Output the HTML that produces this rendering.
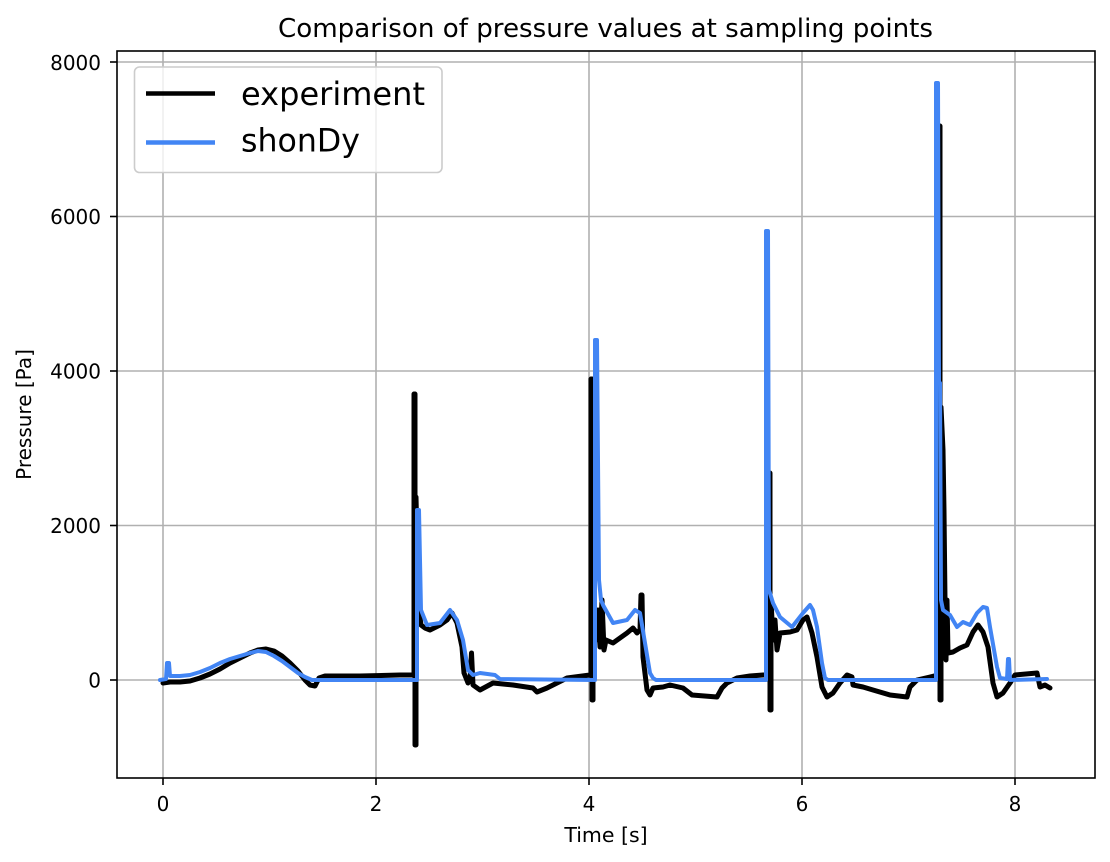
<!DOCTYPE html>
<html>
<head>
<meta charset="utf-8">
<style>
  html, body { margin:0; padding:0; background:#ffffff; }
  svg { display:block; }
  text { font-family: "DejaVu Sans", "Liberation Sans", sans-serif; fill:#000; }
</style>
</head>
<body>
<svg width="1110" height="862" viewBox="0 0 1110 862" xmlns="http://www.w3.org/2000/svg">
  <rect x="0" y="0" width="1110" height="862" fill="#ffffff"/>

  <!-- Title -->
  <text x="278" y="37" font-size="26" textLength="655" lengthAdjust="spacingAndGlyphs">Comparison of pressure values at sampling points</text>

  <!-- Grid -->
  <g stroke="#b0b0b0" stroke-width="1.6">
    <line x1="163" y1="51" x2="163" y2="778"/>
    <line x1="376" y1="51" x2="376" y2="778"/>
    <line x1="589" y1="51" x2="589" y2="778"/>
    <line x1="802" y1="51" x2="802" y2="778"/>
    <line x1="1015" y1="51" x2="1015" y2="778"/>
    <line x1="117" y1="62" x2="1095" y2="62"/>
    <line x1="117" y1="216.5" x2="1095" y2="216.5"/>
    <line x1="117" y1="371" x2="1095" y2="371"/>
    <line x1="117" y1="525.5" x2="1095" y2="525.5"/>
    <line x1="117" y1="680" x2="1095" y2="680"/>
  </g>

  <!-- Experiment (black) -->
  <path fill="none" stroke="#000" stroke-width="5" stroke-linejoin="round" stroke-linecap="round"
    d="M163,683 L170,682 L180,682 L190,681 L200,678 L210,674 L220,669 L230,663 L240,658 L250,653 L258,650 L266,649 L274,651 L282,656 L290,663 L298,671 L305,680 L310,685 L315,686 L319,678 L325,676 L360,676 L400,675 L413,675
    L414,675 L414,394 L415,394 L415,745 L416,745 L416,497 L417,540 L419,610 L421,625 L425,628 L430,630 L440,625 L447,620 L452,613 L457,623 L462,647 L464,673 L468,683 L470,680 L471.5,653 L473,685 L480,690 L493,683 L513,685 L533,688 L537,692 L547,688 L567,678 L590,675
    L591,675 L591,379 L592,379 L592,700 L593,700 L593,610 L596,640 L598,610 L600,647 L602,600 L604,650 L606,640 L613,643 L627,633 L633,628 L637,633 L640,630 L641,595 L642,595 L643,657 L647,690 L650,695 L653,688 L663,687 L670,685 L683,688 L692,695 L717,697 L722,688 L727,683 L737,678 L750,676 L763,675 L768,675
    L769,675 L769,473 L770,473 L770,710 L771,710 L771,600 L773,640 L775,620 L777,650 L780,633 L790,632 L797,630 L803,620 L807,617 L812,633 L817,657 L822,687 L827,697 L833,693 L840,683 L847,675 L852,677 L853,685 L863,687 L873,690 L890,695 L907,697 L910,687 L917,680 L930,677 L938,675
    L939,675 L939,126 L940,126 L940,700 L941,700 L941,407 L943,450 L944,511 L945,600 L946,660 L947,600 L948,653 L953,652 L960,648 L967,645 L973,632 L978,625 L983,632 L988,647 L993,683 L997,697 L1003,693 L1010,683 L1015,675 L1037,673 L1040,687 L1045,685 L1050,688"/>

  <!-- shonDy (blue) -->
  <path fill="none" stroke="#4285f4" stroke-width="4" stroke-linejoin="round" stroke-linecap="round"
    d="M160,680 L166,679 L167,663 L169,663 L170,676 L180,676 L190,675 L200,672 L210,668 L220,663 L230,659 L240,656 L250,653 L258,651 L266,652 L274,656 L282,661 L290,667 L298,673 L305,677 L312,680 L417,680
    L417,510 L419,510 L421,610 L427,625 L440,623 L450,610 L457,620 L463,640 L468,670 L473,675 L480,673 L495,675 L500,679 L595,680
    L595,340 L597,340 L599,580 L601,600 L603,605 L613,623 L627,620 L635,610 L640,613 L645,643 L650,673 L653,678 L656,680 L766,680
    L766,231 L768,231 L769,590 L773,603 L780,617 L792,627 L803,613 L810,605 L813,610 L817,627 L822,663 L825,678 L828,680 L936,680
    L936,83 L938,83 L939,383 L940,383 L941,600 L943,610 L950,615 L957,627 L963,622 L970,625 L977,613 L983,607 L987,608 L990,627 L997,667 L1000,678 L1007,679 L1008,659 L1009,659 L1010,680 L1047,679"/>

  <!-- Spines -->
  <rect x="117" y="51" width="978" height="727" fill="none" stroke="#000" stroke-width="1.6"/>

  <!-- Ticks -->
  <g stroke="#000" stroke-width="1.6">
    <line x1="110" y1="62" x2="117" y2="62"/>
    <line x1="110" y1="216.5" x2="117" y2="216.5"/>
    <line x1="110" y1="371" x2="117" y2="371"/>
    <line x1="110" y1="525.5" x2="117" y2="525.5"/>
    <line x1="110" y1="680" x2="117" y2="680"/>
    <line x1="163" y1="778" x2="163" y2="785"/>
    <line x1="376" y1="778" x2="376" y2="785"/>
    <line x1="589" y1="778" x2="589" y2="785"/>
    <line x1="802" y1="778" x2="802" y2="785"/>
    <line x1="1015" y1="778" x2="1015" y2="785"/>
  </g>

  <!-- Y tick labels -->
  <g font-size="20" text-anchor="end">
    <text x="101" y="70">8000</text>
    <text x="101" y="224">6000</text>
    <text x="101" y="378.5">4000</text>
    <text x="101" y="533">2000</text>
    <text x="101" y="687.5">0</text>
  </g>

  <!-- X tick labels -->
  <g font-size="20" text-anchor="middle">
    <text x="163" y="811">0</text>
    <text x="376" y="811">2</text>
    <text x="589" y="811">4</text>
    <text x="802" y="811">6</text>
    <text x="1015" y="811">8</text>
  </g>

  <!-- Axis labels -->
  <text x="606" y="842" font-size="20.5" text-anchor="middle">Time [s]</text>
  <text transform="translate(31,414.5) rotate(-90)" font-size="20" text-anchor="middle">Pressure [Pa]</text>

  <!-- Legend -->
  <rect x="134.5" y="67" width="307.5" height="105.5" rx="5" ry="5" fill="#ffffff" fill-opacity="0.8" stroke="#cccccc" stroke-width="1.6"/>
  <line x1="146" y1="93.5" x2="215" y2="93.5" stroke="#000" stroke-width="4.5"/>
  <line x1="146" y1="142.5" x2="215" y2="142.5" stroke="#4285f4" stroke-width="4.5"/>
  <text x="241" y="105" font-size="32" textLength="184" lengthAdjust="spacingAndGlyphs">experiment</text>
  <text x="241" y="151.5" font-size="32" textLength="119" lengthAdjust="spacingAndGlyphs">shonDy</text>
</svg>
</body>
</html>
